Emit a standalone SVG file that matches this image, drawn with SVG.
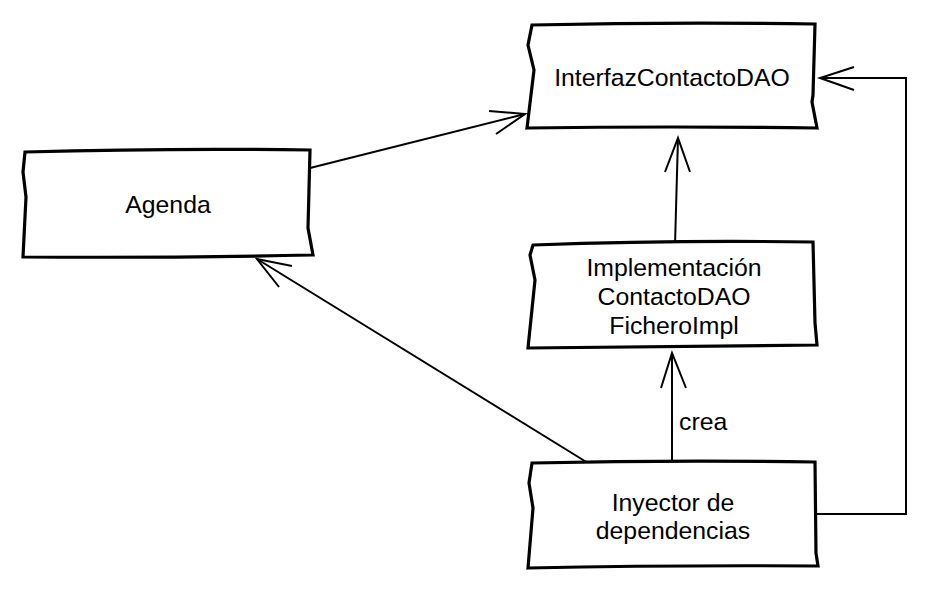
<svg xmlns="http://www.w3.org/2000/svg" width="931" height="593" viewBox="0 0 931 593">
<style>
.box{fill:#fff;stroke:#000;stroke-width:3.2;stroke-linejoin:miter}
.lbl{font-family:"Liberation Sans",Arial,sans-serif;font-size:24.8px;fill:#000;text-anchor:middle}
.edge{fill:none;stroke:#000;stroke-width:2}
.head{fill:none;stroke:#000;stroke-width:2;stroke-linecap:butt}
</style>
<rect width="931" height="593" fill="#fff"/>
<g id="connectors">
  <path class="edge" d="M310,168 L525,114"/>
  <path class="head" d="M489,111 L525,114 L496,134"/>
  <path class="edge" d="M675,245 L678,138"/>
  <path class="head" d="M665,172 L678,138 L690,172"/>
  <path class="edge" d="M672,465 L672,353"/>
  <path class="head" d="M661,388 L672,353 L686,388"/>
  <text class="lbl" x="679" y="430" style="text-anchor:start">crea</text>
  <path class="edge" d="M588,463 L257,259"/>
  <path class="head" d="M292,266 L257,259 L279,287"/>
  <path class="edge" d="M816,514 L906,514 L906,78 L820,78"/>
  <path class="head" d="M854,67 L820,78 L854,90"/>
</g>
<g id="node-interfaz">
  <path class="box" d="M532,25 Q670,22 815,24 L813,95 L812,102 L817,128 Q670,126 527,128 L534,70 L528,45 Z"/>
  <text class="lbl" x="672" y="86">InterfazContactoDAO</text>
</g>
<g id="node-agenda">
  <path class="box" d="M25,152 Q170,148 310,150 L308,228 L313,255 Q170,258 23,257 L26,197 L23,172 Z"/>
  <text class="lbl" x="168" y="213">Agenda</text>
</g>
<g id="node-implementacion">
  <path class="box" d="M533,245 Q670,240 813,242 L815,323 L817,345 Q670,347 528,348 L535,280 L530,255 Z"/>
  <text class="lbl" x="674" y="276">Implementación</text>
  <text class="lbl" x="674" y="305">ContactoDAO</text>
  <text class="lbl" x="674" y="334">FicheroImpl</text>
</g>
<g id="node-inyector">
  <path class="box" d="M532,463 Q670,460 815,462 L816,553 L818,566 Q670,565 528,568 L533,508 L529,483 Z"/>
  <text class="lbl" x="673" y="511">Inyector de</text>
  <text class="lbl" x="673" y="539">dependencias</text>
</g>
</svg>
